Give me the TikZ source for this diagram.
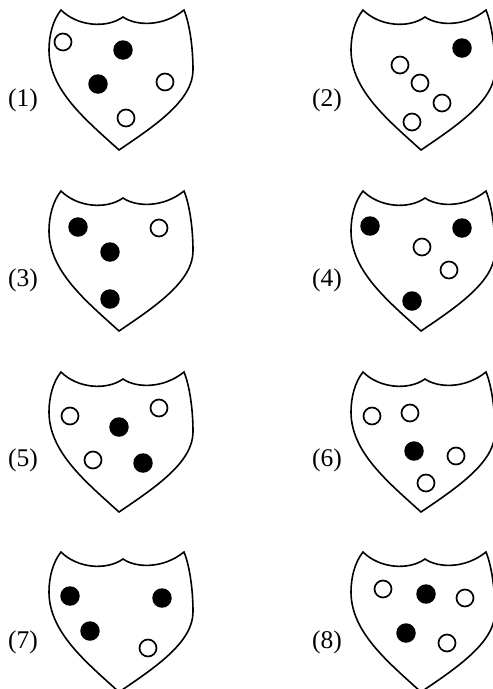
\documentclass[tikz,border=0pt]{standalone}
\usepackage{fontspec}
\setmainfont{Liberation Serif}
\usepackage{tikz}
\tikzstyle{outline}=[line width=1.6pt,line join=miter]

\begin{document}
\begin{tikzpicture}[
    x=1pt, y=-1pt,
    every node/.style={font=\fontsize{25.5}{29}\selectfont},
    emptydisc/.style={
        circle,
        draw,
        line width=1.7pt,
        minimum size=17pt,
        inner sep=0pt
    },
    fulldisc/.style={
        circle,
        fill,
        minimum size=19.5pt,
        inner sep=0pt
    },
    shield/.pic={
        \draw[outline] (0,0) .. controls (16,16) and (45,19) .. (62,7)
            .. controls (75,16) and (102,17) .. (123,0)
            .. controls (128,12) and (132,35) .. (132,60)
            .. controls (132,90) and (95,115) .. (58,140)
            .. controls (25,110) and (-12,80) .. (-12,40)
            .. controls (-12,25) and (-8,10) .. cycle;
    }
]
\useasboundingbox (0,0) rectangle (493,689);

% shields
\pic at (61,10) {shield};
\pic at (363,10) {shield};
\pic at (61,191) {shield};
\pic at (363,191) {shield};
\pic at (61,372) {shield};
\pic at (363,372) {shield};
\pic at (61,552) {shield};
\pic at (363,552) {shield};

% labels
\node (l1) at (23,100) {(1)};
\node (l2) at (327,100) {(2)};
\node (l3) at (23,280) {(3)};
\node (l4) at (327,280) {(4)};
\node (l5) at (23,460) {(5)};
\node (l6) at (327,460) {(6)};
\node (l7) at (23,642) {(7)};
\node (l8) at (327,642) {(8)};

% (1)
\node[emptydisc] (p1a) at (63,42) {};
\node[fulldisc] (p1b) at (123,50) {};
\node[fulldisc] (p1c) at (98,84) {};
\node[emptydisc] (p1d) at (165,82) {};
\node[emptydisc] (p1e) at (126,118) {};

% (2)
\node[fulldisc] (p2a) at (462,48) {};
\node[emptydisc] (p2b) at (400,65) {};
\node[emptydisc] (p2c) at (420,83) {};
\node[emptydisc] (p2d) at (442,103) {};
\node[emptydisc] (p2e) at (412,122) {};

% (3)
\node[fulldisc] (p3a) at (78,227) {};
\node[emptydisc] (p3b) at (159,228) {};
\node[fulldisc] (p3c) at (110,252) {};
\node[fulldisc] (p3d) at (110,299) {};

% (4)
\node[fulldisc] (p4a) at (370,226) {};
\node[fulldisc] (p4b) at (462,228) {};
\node[emptydisc] (p4c) at (422,247) {};
\node[emptydisc] (p4d) at (449,270) {};
\node[fulldisc] (p4e) at (412,301) {};

% (5)
\node[emptydisc] (p5a) at (70,416) {};
\node[emptydisc] (p5b) at (159,408) {};
\node[fulldisc] (p5c) at (119,427) {};
\node[emptydisc] (p5d) at (93,460) {};
\node[fulldisc] (p5e) at (143,463) {};

% (6)
\node[emptydisc] (p6a) at (372,416) {};
\node[emptydisc] (p6b) at (410,413) {};
\node[fulldisc] (p6c) at (414,451) {};
\node[emptydisc] (p6d) at (456,456) {};
\node[emptydisc] (p6e) at (426,483) {};

% (7)
\node[fulldisc] (p7a) at (70,596) {};
\node[fulldisc] (p7b) at (162,598) {};
\node[fulldisc] (p7c) at (90,631) {};
\node[emptydisc] (p7d) at (148,648) {};

% (8)
\node[emptydisc] (p8a) at (383,589) {};
\node[fulldisc] (p8b) at (426,594) {};
\node[emptydisc] (p8c) at (465,598) {};
\node[fulldisc] (p8d) at (406,633) {};
\node[emptydisc] (p8e) at (447,643) {};
\end{tikzpicture}
\end{document}
